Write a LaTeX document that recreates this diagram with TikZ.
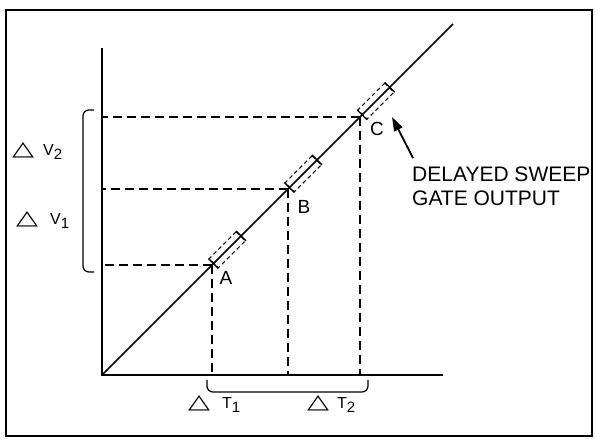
\documentclass[tikz,border=0pt]{standalone}
\usepackage{fontspec}
\usepackage{graphicx}
\setmainfont{Liberation Sans}
\newfontfamily\symfont{DejaVu Sans}
\usetikzlibrary{arrows.meta, positioning, calc}

\newcommand{\wdelta}{\resizebox{22pt}{13pt}{\symfont △}}
\newcommand{\lowsub}[1]{\raisebox{-4pt}{\fontsize{15}{15}\selectfont #1}}

\begin{document}
\begin{tikzpicture}[
            x=1pt, y=1pt,
            every node/.style={font=\fontsize{19}{21}\selectfont, inner sep=0pt},
            axis/.style={line width=2.6pt},
            sweep/.style={line width=1.6pt},
            guide/.style={line width=1.4pt, dash pattern=on 9pt off 5pt},
            gate/.style={
                rectangle,
                draw,
                dash pattern=on 4pt off 3pt,
                line width=1.1pt,
                minimum width=38pt,
                minimum height=13pt,
                rotate=45,
                anchor=west
            },
            bracket/.style={line width=1.2pt, rounded corners=6pt},
            span/.style={anchor=west, font=\fontsize{16}{19}\selectfont},
            pointer/.style={-{Triangle[length=14pt, width=9pt]}, line width=1.8pt}
        ]
        \useasboundingbox (0,0) rectangle (595,439);
        \draw[line width=1.6pt] (6,3) rectangle (592,429);

        % Axes and sweep line
        \coordinate (O) at (102,64);
        \coordinate (xend) at (443,64);
        \coordinate (yend) at (102,391);
        \coordinate (send) at (453,415);
        \draw[axis] (xend) -- (O) -- (yend);
        \draw[sweep] (O) -- (send);

        % Points on the sweep
        \coordinate (A) at (212,174);
        \coordinate (B) at (288,250);
        \coordinate (C) at (360,322);

        % Gate boxes
        \node[gate] (gA) at ($(A)!2pt!(send)$) {};
        \node[gate] (gB) at ($(B)!2pt!(send)$) {};
        \node[gate] (gC) at ($(C)!3pt!(send)$) {};
        \foreach \g in {gA, gB, gC} {
            \draw[line width=1.3pt] (\g.north east) -- (\g.south east);
            \draw[line width=1.3pt] (\g.north west) -- (\g.south west);
        }

        % Dashed guides
        \foreach \p in {A, B, C} {
            \draw[guide] (\p) -- (\p -| O);
            \draw[guide] (\p) -- (\p |- O);
        }

        % Point labels
        \node (lA) at (226,161) {A};
        \node (lB) at (304,232) {B};
        \node (lC) at (377,310) {C};

        % Brackets
        \draw[bracket] (94,329) -- (83,329) -- (83,167) -- (94,167);
        \draw[bracket] (207,59) -- (207,47) -- (368,47) -- (368,59);

        % Interval labels
        \node[span] (dV2) at (12,288) {\wdelta\hspace{9pt}V\lowsub{2}};
        \node[span] (dV1) at (16,219) {\wdelta\hspace{12pt}V\lowsub{1}};
        \node[span] (dT1) at (188,35) {\wdelta\hspace{12pt}T\lowsub{1}};
        \node[span] (dT2) at (307,35) {\wdelta\hspace{8pt}T\lowsub{2}};

        % Gate output callout
        \node[align=left, anchor=north west, font=\fontsize{21}{24}\selectfont] (out) at (412,272) {DELAYED SWEEP\\GATE OUTPUT};
        \coordinate (tip) at (392,322);
        \draw[pointer] (out.north west) ++(1,9) coordinate (tail) -- (tip);

        \end{tikzpicture}
\end{document}
